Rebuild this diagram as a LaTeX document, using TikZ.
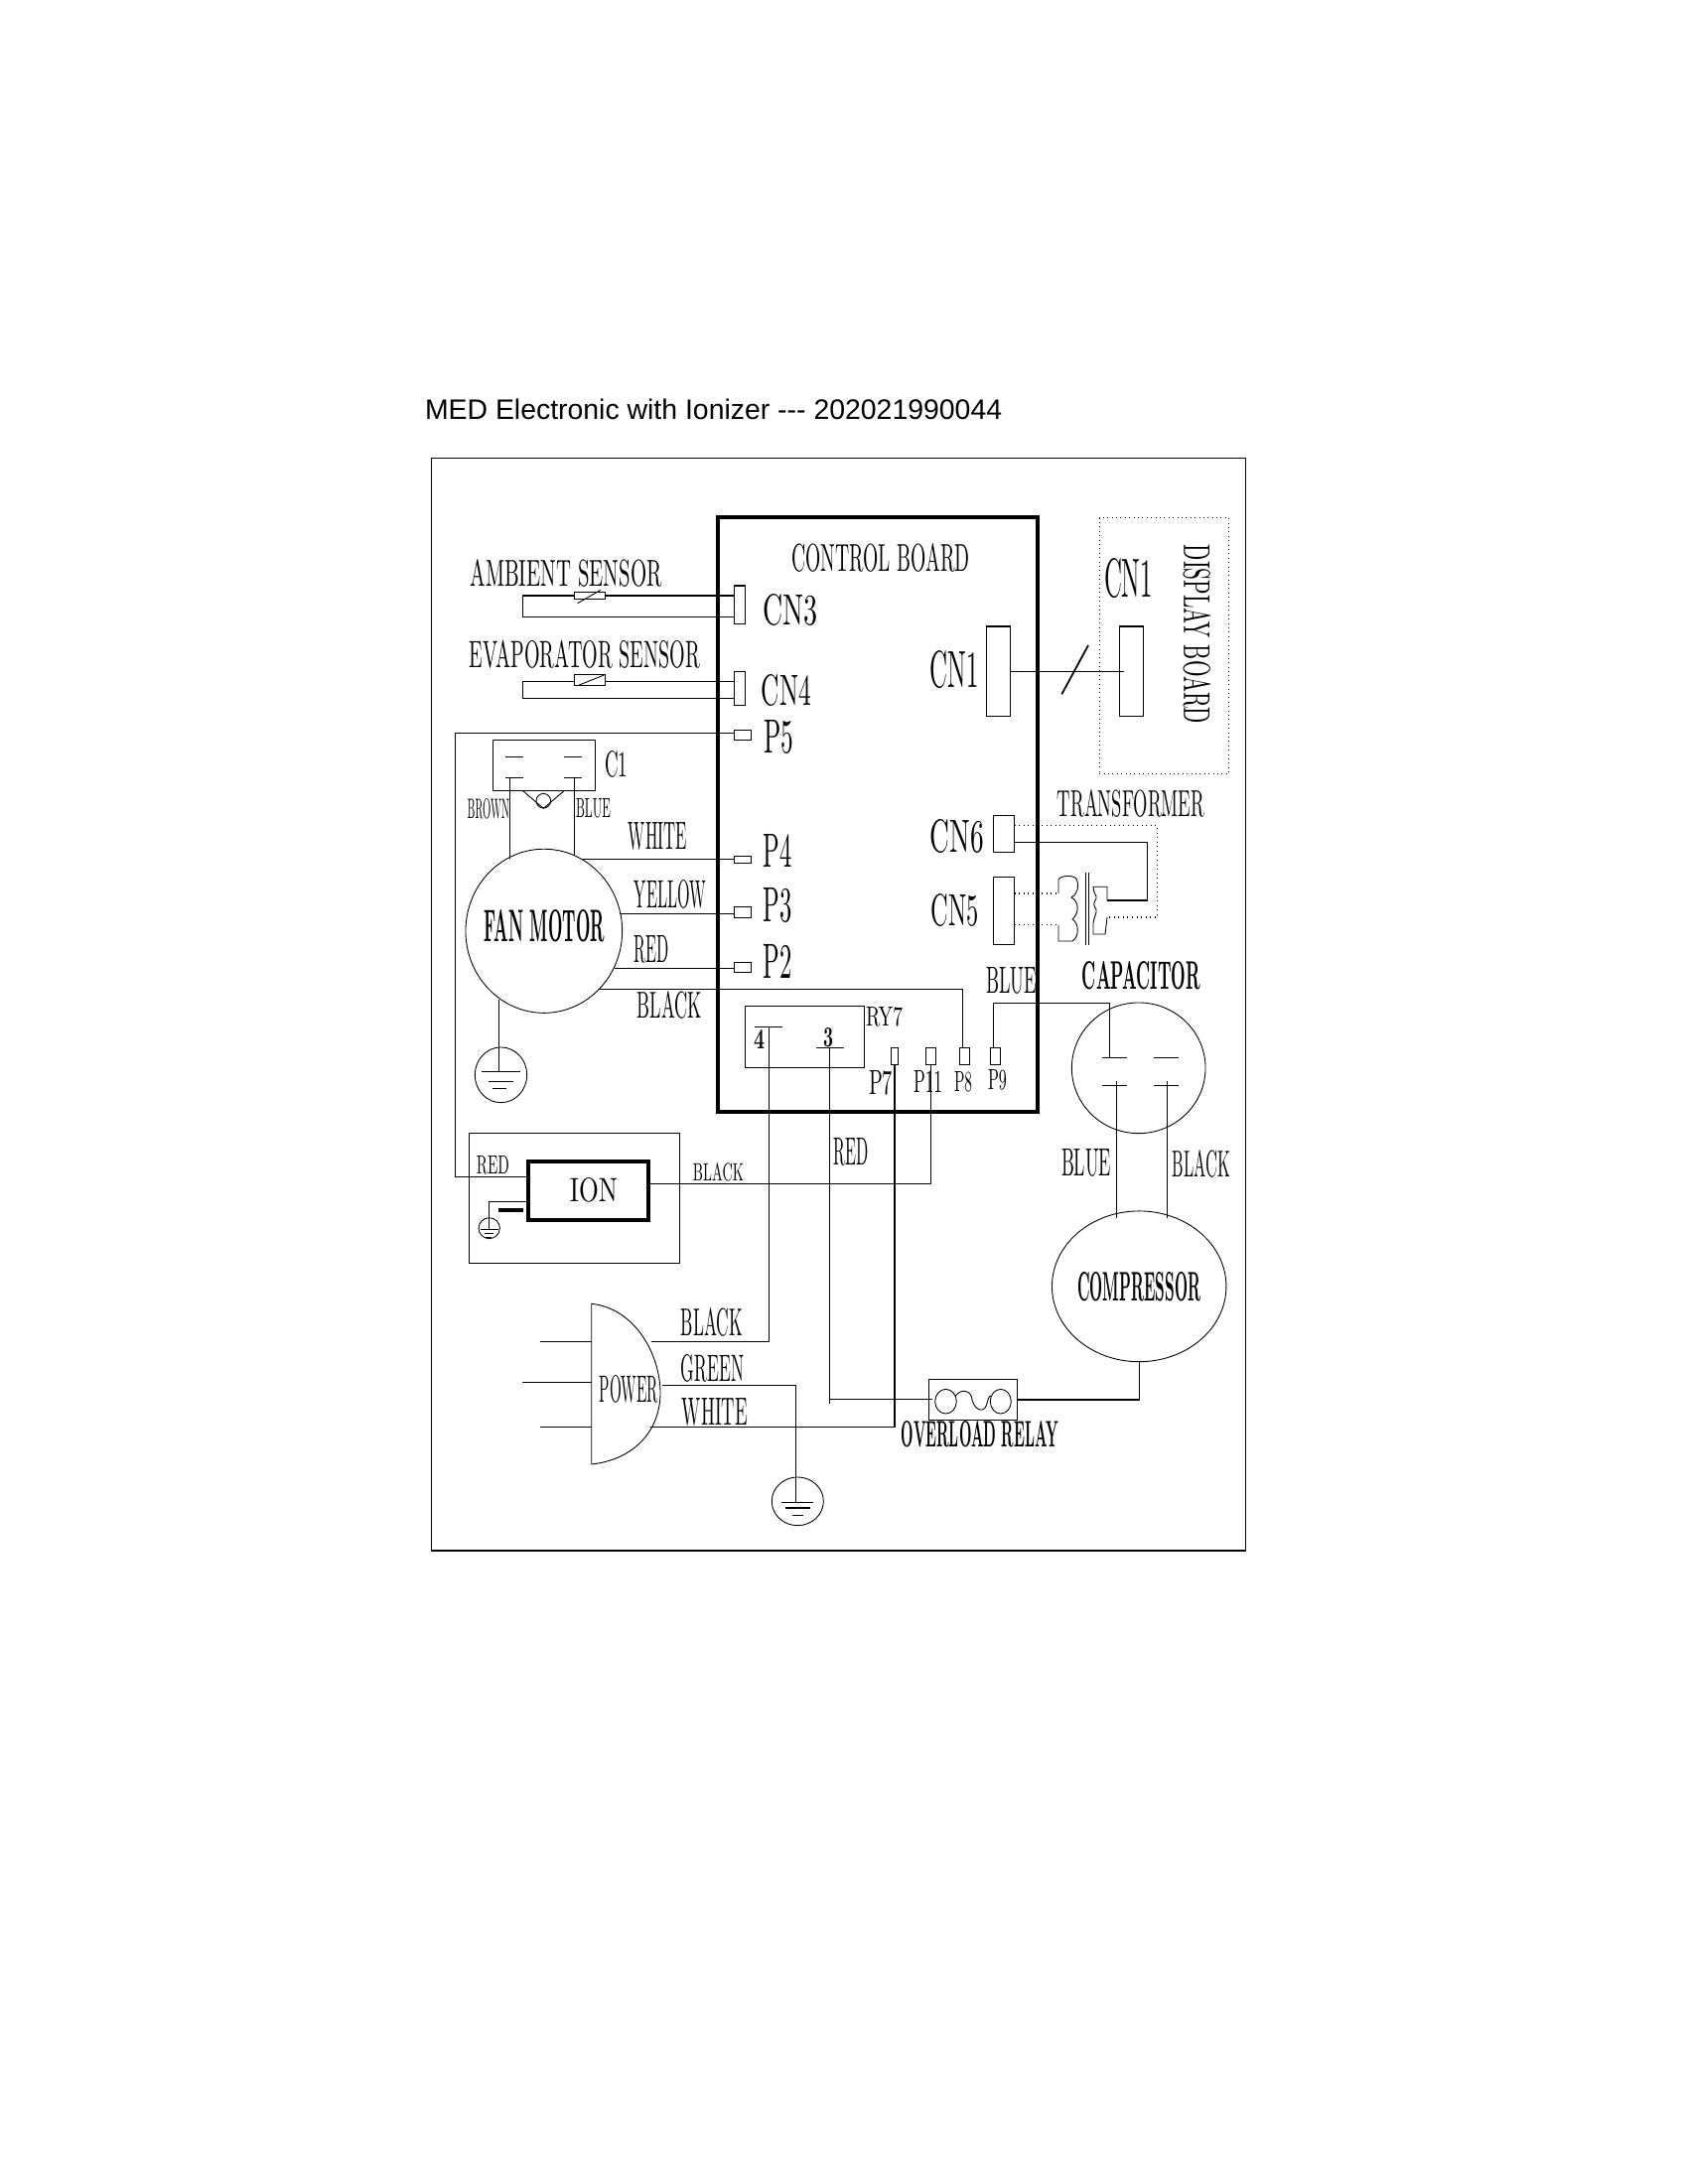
\documentclass[tikz,border=0pt]{standalone}
\usepackage{fontspec}
\newfontfamily\titlefont{Liberation Sans}
\usetikzlibrary{shapes}
\newlength\pxu
\setlength\pxu{0.1mm}
\newcommand{\sized}[3]{\resizebox{#1\pxu}{#2\pxu}{#3}}
\tikzset{
  tag/.style={inner sep=0pt,outer sep=0pt},
  pin/.style 2 args={draw,inner sep=0pt,outer sep=0pt,minimum width=#1\pxu,minimum height=#2\pxu},
  round/.style 2 args={draw,ellipse,line width=.25pt,inner sep=0pt,outer sep=0pt,minimum width=#1\pxu,minimum height=#2\pxu},
  heavy/.style={line width=1.15pt}
}
\begin{document}
\begin{tikzpicture}[x=.01cm,y=-.01cm,line width=.4pt]
    \useasboundingbox (0,0) rectangle (1700,2200);
    \node[tag,anchor=west,font=\titlefont\fontsize{8.08}{10}\selectfont] (title) at (428,412) {MED Electronic with Ionizer --- 202021990044};
    \node[pin={819.8}{1100}] (frame) at (844.6,1011.7) {};
    \node[pin={322}{598.3},heavy,line cap=round] (board) at (884.3,820.8) {};
    \node[pin={130.4}{257.6},line width=.25pt,densely dotted] (display) at (1172.5,650.5) {};
    \node[tag] (boardtxt) at (887,562) {\sized{179}{28}{CONTROL BOARD}};
    \node[tag,rotate=-90] (displaytxt) at (1205.5,639) {\sized{180}{27}{DISPLAY BOARD}};

    % sensors
    \node[tag] (ambient) at (570,577) {\sized{193}{27}{AMBIENT SENSOR}};
    \node[tag] (evap) at (589,659) {\sized{232}{27.5}{EVAPORATOR SENSOR}};
    \node[pin={11.4}{38.3}] (cn3) at (745,609.2) {};
    \node[pin={11.4}{34}] (cn4) at (745,693.7) {};
    \node[tag] (cn3txt) at (796,614.5) {\sized{55}{31}{CN3}};
    \node[tag] (cn4txt) at (792,695.5) {\sized{50}{31}{CN4}};
    \node[pin={31.4}{7.4}] (ambres) at (594,600) {};
    \node[pin={31.4}{11.4}] (evapres) at (594,685) {};
    \coordinate (amba) at (526.7,600);
    \coordinate (ambb) at (526.7,621.3);
    \coordinate (evapa) at (526.7,686.7);
    \coordinate (evapb) at (526.7,703.3);
    \draw (ambres.east) -- (ambres.east -| cn3.west);
    \draw (ambres.west) -- (amba) -- (ambb) -- (ambb -| cn3.west);
    \draw (evapres.east |- evapa) -- (evapa -| cn4.west);
    \draw (evapres.west |- evapa) -- (evapa) -- (evapb) -- (evapb -| cn4.west);
    \draw[line width=.25pt] (581.7,607.7) -- (605,594.3);
    \draw[line width=.25pt] (583.3,690) -- (608.3,680);

    % board pins
    \node[pin={17.4}{10.4}] (p5) at (748,740.5) {};
    \node[pin={17.4}{7}] (p4) at (748,865.8) {};
    \node[pin={17.4}{11}] (p3) at (748,918.8) {};
    \node[pin={17.4}{10}] (p2) at (748,974.3) {};
    \node[tag] (p5txt) at (784,742.5) {\sized{30}{33}{P5}};
    \node[tag] (p4txt) at (783.5,856.5) {\sized{29}{33}{P4}};
    \node[tag] (p3txt) at (783.5,912) {\sized{29}{34}{P3}};
    \node[tag] (p2txt) at (783.5,968) {\sized{29}{34}{P2}};
    \node[pin={7.4}{17}] (p7) at (901,1063.8) {};
    \node[pin={10}{17}] (p11) at (937.7,1063.8) {};
    \node[pin={10}{17}] (p8) at (971.7,1063.8) {};
    \node[pin={10.4}{17}] (p9) at (1002.5,1063.8) {};
    \node[tag] (p7txt) at (887,1091) {\sized{24}{24}{P7}};
    \node[tag] (p11txt) at (934.5,1089) {\sized{29}{22}{P11}};
    \node[tag] (p8txt) at (970,1090) {\sized{18}{20}{P8}};
    \node[tag] (p9txt) at (1004.5,1088) {\sized{19}{20}{P9}};

    % capacitor of the fan
    \node[pin={103.4}{51}] (c1) at (548,771.2) {};
    \node[tag] (c1txt) at (620.5,770) {\sized{23}{26}{C1}};
    \node[tag] (brown) at (492,815) {\sized{42}{20}{BROWN}};
    \node[tag] (blue) at (597.5,814.5) {\sized{35}{19}{BLUE}};
    \draw (509,762.3) -- (527.3,762.3) (568,762.3) -- (586,762.3);
    \draw (509,783.3) -- (527.3,783.3) (568,783.3) -- (586,783.3);
    \draw[line width=.25pt] (526.7,796.7) -- (547.3,814.3) -- (568,796.7);
    \draw[line width=.25pt] (547.3,806.7) circle (7.3);
    \coordinate (browna) at (513.3,783.3);
    \coordinate (brownb) at (513.3,865);
    \coordinate (bluea) at (578.3,783.3);
    \coordinate (blueb) at (578.3,861.7);
    \draw (browna) -- (brownb);
    \draw (bluea) -- (blueb);

    % fan motor
    \node[round={157.6}{165}] (motor) at (547.8,937.8) {};
    \node[tag] (motortxt) at (548.5,933) {\sized{121}{32}{\bfseries FAN MOTOR}};
    \node[tag] (white) at (662.5,842.5) {\sized{59}{27}{WHITE}};
    \node[tag] (yellow) at (675,901) {\sized{72}{28}{YELLOW}};
    \node[tag] (red) at (656.5,956.5) {\sized{35}{27}{RED}};
    \node[tag] (black) at (674.5,1012.5) {\sized{65}{27}{BLACK}};
    \coordinate (mwhite) at (586.7,865.3);
    \coordinate (myellow) at (624,920.3);
    \coordinate (mred) at (618.7,975.3);
    \coordinate (mblack) at (603.3,996.7);
    \coordinate (cblack) at (969.3,996.7);
    \draw (mwhite) -- (mwhite -| p4.west);
    \draw (myellow) -- (myellow -| p3.west);
    \draw (mred) -- (mred -| p2.west);
    \draw (mblack) -- (cblack) -- (cblack |- p8.north);
    \coordinate (mgnd) at (502.7,1006.7);
    \coordinate (gnda) at (502.7,1079.3);
    \draw (mgnd) -- (gnda);
    \node[round={52.4}{55.7}] (gndring) at (504.5,1082.8) {};
    \draw (485,1079.3) -- (524,1079.3) (492,1089.3) -- (517,1089.3) (496,1096.7) -- (510,1096.7);

    % relay
    \node[pin={120.4}{62}] (ry7) at (810.5,1044.3) {};
    \node[tag] (ry7txt) at (890.5,1024.5) {\sized{37}{19}{RY7}};
    \node[tag] (four) at (764.5,1046.5) {\sized{11}{19}{\bfseries 4}};
    \node[tag] (three) at (834,1045.5) {\sized{10}{19}{\bfseries 3}};
    \draw (760,1034.3) -- (787.7,1034.3) (822,1055.3) -- (850,1055.3);

    % ion
    \node[pin={212.4}{130.6}] (ionbox) at (578.5,1207) {};
    \node[pin={121}{58.4},heavy] (ion) at (592.5,1199.5) {};
    \node[tag] (iontxt) at (598,1199) {\sized{48}{24}{ION}};
    \node[tag] (redion) at (496.5,1174) {\sized{33}{18}{RED}};
    \node[tag] (blackion) at (723.5,1181) {\sized{51}{18}{BLACK}};
    \fill (502.3,1216.7) rectangle (527.3,1220.7);
    \coordinate (redc) at (458.7,738.7);
    \coordinate (ionred) at (530,1185.3);
    \coordinate (iongnd) at (530,1210.7);
    \coordinate (gndb) at (492.3,1238.3);
    \coordinate (ionblack) at (655,1192.3);
    \draw (redc -| p5.west) -- (redc) -- (redc |- ionred) -- (ionred);
    \draw (iongnd) -- (iongnd -| gndb) -- (gndb);
    \draw (ionblack) -- (ionblack -| p11.south) -- (p11.south);
    \node[round={21.3}{21}] (gndringb) at (492.7,1237.2) {};
    \draw (484,1238.3) -- (501.7,1238.3) (488,1242.7) -- (497.3,1242.7) (489,1246.7) -- (495,1246.7);

    % power plug
    \draw[line width=.25pt] (595.7,1475) -- (595.7,1313.3) .. controls (640,1318) and (665,1365) .. (665,1403) .. controls (665,1440) and (640,1470) .. (595.7,1475);
    \node[tag] (power) at (633.5,1399.5) {\sized{59}{27}{POWER}};
    \node[tag] (blackp) at (717,1332) {\sized{62}{28}{BLACK}};
    \node[tag] (green) at (717.5,1378.5) {\sized{63}{27}{GREEN}};
    \node[tag] (whitep) at (720,1422.5) {\sized{66}{27}{WHITE}};
    \node[tag] (redw) at (857.5,1160.5) {\sized{35}{27}{RED}};
    \coordinate (pina) at (544,1351.3);
    \coordinate (pinb) at (526,1392.3);
    \coordinate (pinc) at (544,1437.3);
    \draw (pina) -- (595.7,1351.3);
    \draw (pinb) -- (595.7,1392.3);
    \draw (pinc) -- (595.7,1437.3);
    \coordinate (pblack) at (656,1351.3);
    \coordinate (pgreen) at (666.7,1395.7);
    \coordinate (pwhite) at (655,1437.3);
    \coordinate (ryfour) at (774.3,1034.3);
    \coordinate (rythree) at (835.7,1055.3);
    \coordinate (rystub) at (835.7,1414);
    \coordinate (gndc) at (801.3,1513.3);
    \draw (pblack) -- (pblack -| ryfour) -- (ryfour);
    \draw (pgreen) -- (pgreen -| gndc) -- (gndc);
    \draw (pwhite) -- (pwhite -| p7.south) -- (p7.south);
    \draw (rythree) -- (rystub);
    \node[round={52}{48.7}] (gndringc) at (803.3,1512.3) {};
    \draw (786.7,1513.3) -- (819,1513.3) (790.7,1519) -- (815.7,1519) (798.3,1526.3) -- (809,1526.3);

    % overload relay
    \node[pin={89.4}{41}] (relay) at (980,1409.8) {};
    \node[tag] (relaytxt) at (987,1445) {\sized{158}{26}{\bfseries OVERLOAD RELAY}};
    \node[round={21.6}{24.6}] (ola) at (952.5,1411.7) {};
    \node[round={21}{24.6}] (olb) at (1007.8,1411.7) {};
    \draw[line width=.25pt] (ola.30) .. controls (968,1399) and (976,1400) .. (978.3,1406.7) .. controls (980,1420) and (990,1424) .. (993.3,1416) .. controls (995,1410) and (996,1405) .. (olb.150);
    \coordinate (relayin) at (939,1409.3);
    \draw (relayin) -- (relayin -| rythree);

    % capacitor and compressor
    \node[round={134.6}{131.6}] (cap) at (1146.7,1075.8) {};
    \node[tag] (captxt) at (1149.5,983) {\sized{119}{28}{\bfseries CAPACITOR}};
    \node[round={141}{151.7}] (comp) at (1147.2,1295.8) {\sized{124}{29}{\bfseries COMPRESSOR}};
    \node[tag] (bluec) at (1094,1171.5) {\sized{50}{27}{BLUE}};
    \node[tag] (blackc) at (1210,1172.5) {\sized{58}{27}{BLACK}};
    \node[tag] (bluep) at (1018.5,988) {\sized{51}{26}{BLUE}};
    \draw (1110,1065.3) -- (1135,1065.3) (1162,1065.3) -- (1186.7,1065.3);
    \draw (1110,1093.3) -- (1135,1093.3) (1162,1093.3) -- (1186.7,1093.3);
    \coordinate (p9a) at (1000.7,1010.3);
    \coordinate (capa) at (1117.7,1065.3);
    \coordinate (capb) at (1124.3,1089.3);
    \coordinate (capc) at (1175.3,1089.3);
    \coordinate (compa) at (1124.3,1226.7);
    \coordinate (compb) at (1175.3,1226.7);
    \draw (p9a |- p9.north) -- (p9a) -- (p9a -| capa) -- (capa);
    \draw (capb) -- (compa);
    \draw (capc) -- (compb);
    \draw (relay.east) -- (relay.east -| comp.south) -- (comp.south);

    % display link
    \node[pin={24.4}{90.7}] (cn1) at (1005.5,676.3) {};
    \node[pin={24.4}{90.7}] (cn1d) at (1139.5,676.3) {};
    \node[tag] (cn1txt) at (961.5,674.5) {\sized{49}{37}{CN1}};
    \node[tag] (cn1dtxt) at (1136.5,582.5) {\sized{49}{39}{CN1}};
    \coordinate (linkend) at (1131.7,676.3);
    \draw (cn1.east) -- (linkend);
    \draw[line width=.5pt] (1069.3,699.3) -- (1096,650);

    % transformer
    \node[pin={21.4}{36.6}] (cn6) at (1011,840) {};
    \node[pin={21.4}{68}] (cn5) at (1011,917.3) {};
    \node[tag] (cn6txt) at (964,842.5) {\sized{54}{33}{CN6}};
    \node[tag] (cn5txt) at (962,917) {\sized{48}{32}{CN5}};
    \node[tag] (trans) at (1139,809.5) {\sized{148}{27}{TRANSFORMER}};
    \coordinate (sa) at (1115,907);
    \coordinate (sb) at (1115,924);
    \coordinate (sc) at (1155.7,848.3);
    \coordinate (sd) at (1165.3,831.3);
    \coordinate (pa) at (1066,900);
    \coordinate (pb) at (1066,931.7);
    \draw[line width=.3pt,densely dotted] (sd -| cn6.east) -- (sd) -- (sd |- sb) -- (sb);
    \draw (sc -| cn6.east) -- (sc) -- (sc |- sa) -- (sa);
    \draw[line width=.3pt,densely dotted] (pa -| cn5.east) -- (pa);
    \draw[line width=.3pt,densely dotted] (pb -| cn5.east) -- (pb);
    \draw[line width=.25pt] (pa) -- (1066,886) .. controls (1068,882) and (1080,881) .. (1084,885) .. controls (1087,892) and (1086,900) .. (1079,904) .. controls (1087,908) and (1087,920) .. (1080,926) .. controls (1087,930) and (1087,944) .. (1080,948) -- (1066,948) -- (pb);
    \draw[line width=.25pt] (sa) -- (1115,893.3) -- (1101,893.3) .. controls (1101,900) and (1105,902) .. (1104,905) .. controls (1101,910) and (1101,912) .. (1104,916) .. controls (1105,920) and (1101,925) .. (1101,930) -- (1101,941) -- (1113,941) -- (sb);
    \draw (1093.3,879) -- (1093.3,951.7) (1096.7,879) -- (1096.7,951.7);
  \end{tikzpicture}
\end{document}
